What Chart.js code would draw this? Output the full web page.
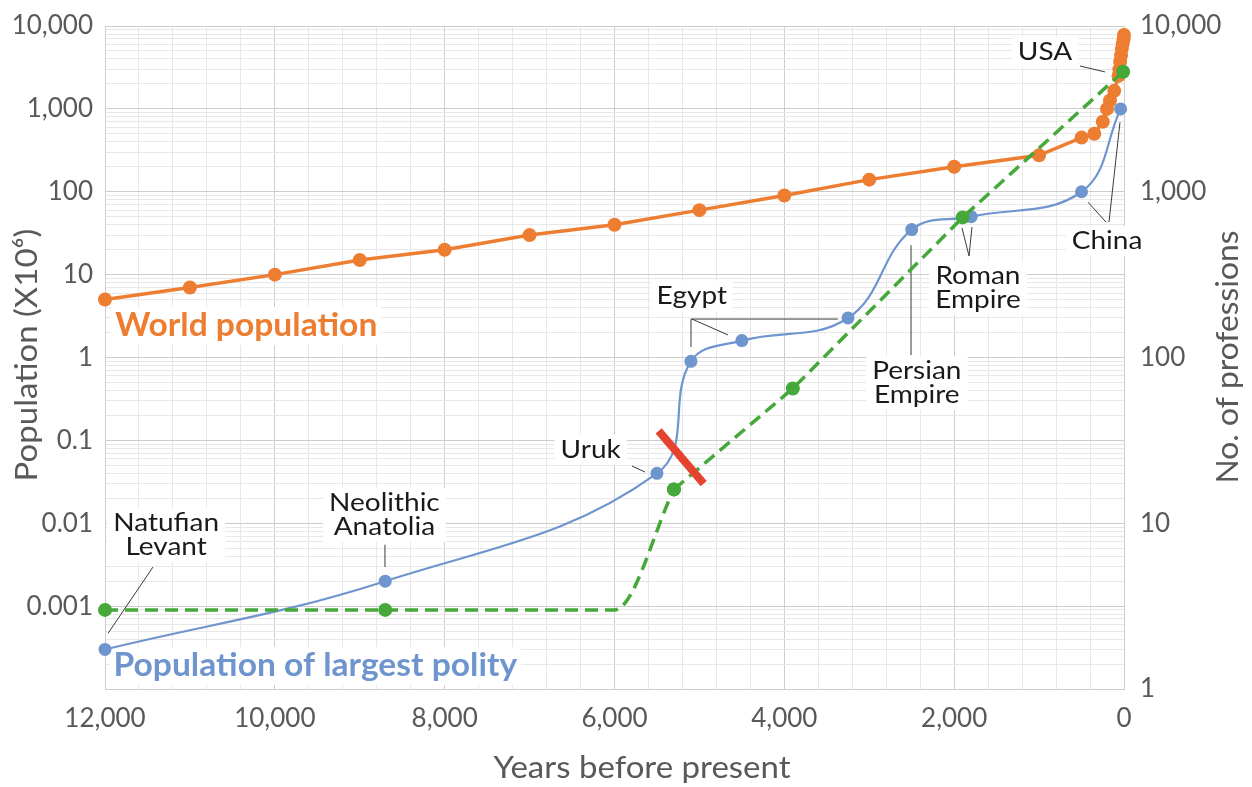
<!DOCTYPE html>
<html>
<head>
<meta charset="utf-8">
<script src="https://cdn.jsdelivr.net/npm/chart.js@4.4.1/dist/chart.umd.min.js"></script>
<style>
  html, body { margin: 0; padding: 0; background: #fff; }
  #wrap { width: 1252px; height: 787px; }
</style>
</head>
<body>
<div id="wrap"><canvas id="myChart" width="1252" height="787"></canvas></div>
<script>
// years before present -> world population (millions)
const worldYears = [12000, 11000, 10000, 9000, 8000, 7000, 6000, 5000, 4000, 3000, 2000, 1000, 500, 350, 250, 200, 165, 115, 65, 55, 45, 35, 25, 15, 5, 0];
const worldValues = [5, 7, 10, 15, 20, 30, 40, 60, 90, 140, 200, 275, 450, 500, 700, 1000, 1260, 1650, 2500, 3000, 3700, 4400, 5300, 6100, 6900, 7800];

// population of the largest polity (millions)
const polityYears = [12000, 8700, 5500, 5100, 4500, 3250, 2500, 1800, 500, 40];
const polityValues = [0.0003, 0.002, 0.04, 0.9, 1.6, 3, 35, 50, 100, 1000];

// number of professions (right axis)
const profYears = [12000, 8700, 6000, 5300, 3900, 1900, 10];
const profValues = [3, 3, 3, 16, 65, 700, 5300];
const profBendYear = 6000;   // no marker here
const profSplit = 3;         // curved part up to here, straight after

// red bar across the curves
const redYears = [5480, 4950];
const redValues = [0.13, 0.03];

// ticks
const xTickStep = 400;
const xLabelStep = 2000;
const leftDecades = [0.0001, 0.001, 0.01, 0.1, 1, 10, 100, 1000, 10000];
const rightDecades = [1, 10, 100, 1000, 10000];

// callouts (centre of text, in x / left-axis units)
const calloutTexts = [['Natufian', 'Levant'], ['Neolithic', 'Anatolia'], ['Uruk'], ['Egypt'], ['Persian', 'Empire'], ['Roman', 'Empire'], ['China'], ['USA']];
const calloutYears = [11280, 8710, 6280, 5090, 2440, 1720, 200, 930];
const calloutValues = [0.0072, 0.0126, 0.077, 5.5, 0.49, 6.9, 25.5, 4850];

// leader lines [from, to]
const leaderYears = [[11435, 11964], [8703, 8703], [5794, 5641], [5099, 5099], [5087, 4663], [5099, 3369], [2508, 2508], [1908, 1825], [1790, 1825], [424, 212], [47, 177], [518, 224]];
const leaderValues = [[0.00296, 0.00047], [0.0055, 0.00296], [0.049, 0.0415], [2.91, 1.34], [2.91, 1.87], [2.91, 2.91], [22.7, 1.07], [36.5, 16.8], [37.4, 16.8], [75, 43], [690, 43], [3290, 2790]];

// series names written in the plot
const seriesLabels = ['World population', 'Population of largest polity'];
const seriesLabelYears = [11880, 11900];
const seriesLabelValues = [2.4, 0.00019];

const ORANGE = '#ED7D31';
const BLUE = '#6E95CD';
const GREEN = '#46A83A';

const pts = (xs, ys) => xs.map((x, i) => ({ x: x, y: ys[i] }));
const isDecade = v => Math.abs(Math.log10(v) - Math.round(Math.log10(v))) < 1e-9;
const fmt = v => v >= 1 ? v.toLocaleString('en-US') : String(v);

const tickFont = { family: 'Lato', size: 26 };
const gridMajor = '#cdcdcd';
const gridMinor = '#e8e8e8';

// tick labels may overflow, the plot area should not move for them
const noPad = s => { s.paddingTop = 0; s.paddingBottom = 0; s.paddingLeft = 0; s.paddingRight = 0; };

// text a bit wider than Lato draws it
function wideText(ctx, t, x, y, sx, rot) {
    ctx.save();
    ctx.translate(x, y);
    if (rot) ctx.rotate(rot);
    ctx.scale(sx, 1);
    ctx.fillText(t, 0, 0);
    ctx.restore();
}

const annoPlugin = {
    id: 'anno',
    beforeDatasetsDraw(chart) {
        const { ctx } = chart;
        const x = chart.scales.x, y = chart.scales.y;
        ctx.save();
        ctx.strokeStyle = '#3a3a3a';
        ctx.lineWidth = 1;
        leaderYears.forEach((ys, i) => {
            ctx.beginPath();
            ctx.moveTo(x.getPixelForValue(ys[0]), y.getPixelForValue(leaderValues[i][0]));
            ctx.lineTo(x.getPixelForValue(ys[1]), y.getPixelForValue(leaderValues[i][1]));
            ctx.stroke();
        });

        const sx = 1.12, lh = 24;
        ctx.font = '25px Lato';
        ctx.textAlign = 'center';
        ctx.textBaseline = 'middle';
        calloutTexts.forEach((lines, i) => {
            const cx = x.getPixelForValue(calloutYears[i]);
            const cy = y.getPixelForValue(calloutValues[i]);
            const w = Math.max(...lines.map(t => ctx.measureText(t).width)) * sx + 12;
            const h = lines.length * lh + 6;
            ctx.fillStyle = '#fff';
            ctx.fillRect(cx - w / 2, cy - h / 2, w, h);
            ctx.fillStyle = '#1a1a1a';
            lines.forEach((t, k) => wideText(ctx, t, cx, cy + (k - (lines.length - 1) / 2) * lh, sx));
        });

        ctx.font = 'bold 32px Lato';
        ctx.textAlign = 'left';
        [ORANGE, BLUE].forEach((col, i) => {
            const lx = x.getPixelForValue(seriesLabelYears[i]);
            const ly = y.getPixelForValue(seriesLabelValues[i]);
            const w = ctx.measureText(seriesLabels[i]).width * 1.05;
            ctx.fillStyle = '#fff';
            ctx.fillRect(lx - 4, ly - 19, w + 8, 38);
            ctx.fillStyle = col;
            wideText(ctx, seriesLabels[i], lx, ly, 1.05);
        });
        ctx.restore();
    },
    afterDraw(chart) {
        const { ctx } = chart;
        ctx.save();
        ctx.fillStyle = '#595959';
        ctx.font = '30px Lato';
        ctx.textAlign = 'center';
        ctx.textBaseline = 'alphabetic';
        wideText(ctx, 'Years before present', 642, 778, 1.1);
        wideText(ctx, 'Population (X10\u2076)', 37, 355, 1.1, -Math.PI / 2);
        wideText(ctx, 'No. of professions', 1238, 357, 1.06, -Math.PI / 2);
        ctx.restore();
    }
};

const myChart = new Chart(document.getElementById('myChart'), {
    type: 'line',
    data: {
        datasets: [
            {
                label: 'marker',
                data: pts(redYears, redValues),
                yAxisID: 'y',
                borderColor: '#E5432E',
                borderWidth: 8,
                borderCapStyle: 'butt',
                pointRadius: 0,
                clip: false
            },
            {
                label: 'No. of professions (rise)',
                data: pts(profYears.slice(0, profSplit + 1), profValues.slice(0, profSplit + 1)),
                yAxisID: 'y2',
                borderColor: GREEN,
                backgroundColor: GREEN,
                borderWidth: 3.5,
                borderDash: [13, 7],
                cubicInterpolationMode: 'monotone',
                pointRadius: ctx => profYears[ctx.dataIndex] === profBendYear ? 0 : 7,
                pointBorderWidth: 0,
                clip: false
            },
            {
                label: 'No. of professions',
                data: pts(profYears.slice(profSplit), profValues.slice(profSplit)),
                yAxisID: 'y2',
                borderColor: GREEN,
                backgroundColor: GREEN,
                borderWidth: 3.5,
                borderDash: [13, 7],
                tension: 0,
                pointRadius: 7,
                pointBorderWidth: 0,
                clip: false
            },
            {
                label: 'Population of largest polity',
                data: pts(polityYears, polityValues),
                yAxisID: 'y',
                borderColor: BLUE,
                backgroundColor: BLUE,
                borderWidth: 2.2,
                tension: 0.4,
                pointRadius: 6.5,
                pointBorderWidth: 0,
                clip: false
            },
            {
                label: 'World population',
                data: pts(worldYears, worldValues),
                yAxisID: 'y',
                borderColor: ORANGE,
                backgroundColor: ORANGE,
                borderWidth: 3.5,
                tension: 0,
                pointRadius: 7,
                pointBorderWidth: 0,
                clip: false
            }
        ]
    },
    options: {
        responsive: false,
        animation: false,
        layout: { padding: { top: 26, left: 0, right: 0, bottom: 0 } },
        plugins: { legend: { display: false }, tooltip: { enabled: false } },
        scales: {
            x: {
                type: 'linear',
                reverse: true,
                min: 0,
                max: 12000,
                afterBuildTicks: s => {
                    s.ticks = [];
                    for (let v = 0; v <= 12000; v += xTickStep) s.ticks.push({ value: v });
                },
                afterFit: s => { s.height = 98; noPad(s); },
                grid: {
                    drawTicks: false,
                    color: c => (c.tick && c.tick.value % xLabelStep === 0) ? gridMajor : gridMinor
                },
                border: { color: gridMajor },
                ticks: {
                    autoSkip: false,
                    maxRotation: 0,
                    padding: 14,
                    font: tickFont,
                    color: '#595959',
                    callback: v => v % xLabelStep === 0 ? v.toLocaleString('en-US') : ''
                }
            },
            y: {
                type: 'logarithmic',
                position: 'left',
                min: 0.0001,
                max: 10000,
                afterBuildTicks: s => {
                    const t = [];
                    for (let k = -4; k < 4; k++) {
                        for (let m = 1; m <= 9; m++) t.push({ value: Number((m * Math.pow(10, k)).toPrecision(3)) });
                    }
                    t.push({ value: 10000 });
                    s.ticks = t;
                },
                afterFit: s => { s.width = 105; noPad(s); },
                grid: {
                    drawTicks: false,
                    color: c => (c.tick && isDecade(c.tick.value)) ? gridMajor : gridMinor
                },
                border: { color: gridMajor },
                ticks: {
                    autoSkip: false,
                    padding: 12,
                    font: tickFont,
                    color: '#595959',
                    callback: v => (isDecade(v) && v > leftDecades[0]) ? fmt(v) : ''
                }
            },
            y2: {
                type: 'logarithmic',
                position: 'right',
                min: 1,
                max: 10000,
                afterBuildTicks: s => { s.ticks = rightDecades.map(v => ({ value: v })); },
                afterFit: s => { s.width = 128; noPad(s); },
                grid: { display: false, drawTicks: false },
                border: { display: false },
                ticks: {
                    autoSkip: false,
                    padding: 16,
                    font: tickFont,
                    color: '#595959',
                    callback: v => fmt(v)
                }
            }
        }
    },
    plugins: [annoPlugin]
});
</script>
</body>
</html>
